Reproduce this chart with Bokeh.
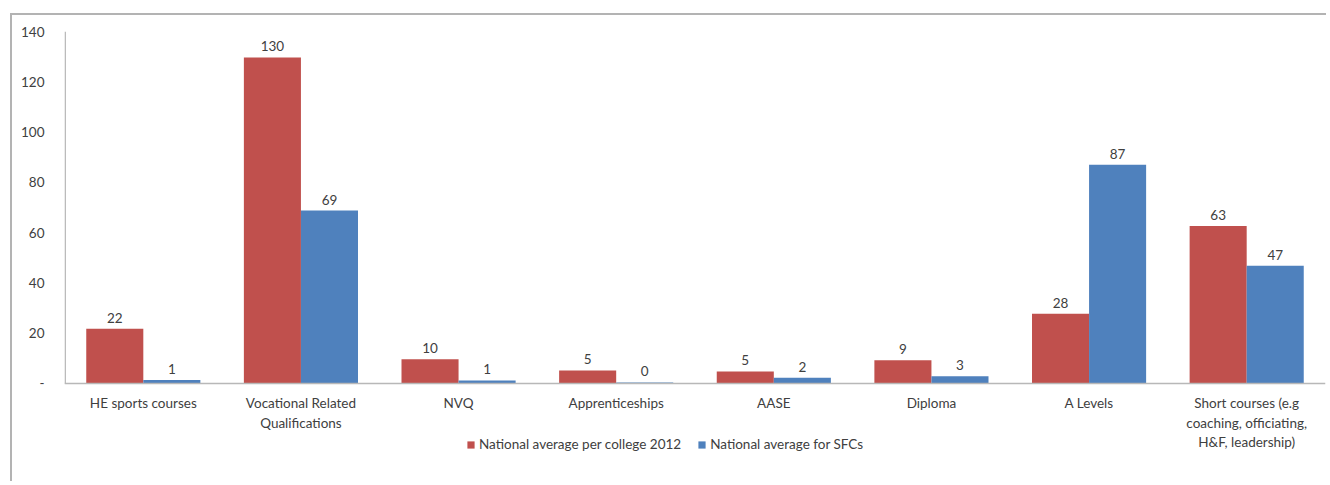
from bokeh.plotting import figure
from bokeh.models import ColumnDataSource, FactorRange, FixedTicker, Legend, LegendItem
from bokeh.transform import dodge
from bokeh.core.properties import value
from bokeh.embed import file_html
from bokeh.resources import INLINE

categories = [
    "HE sports courses",
    "Vocational Related\nQualifications",
    "NVQ",
    "Apprenticeships",
    "AASE",
    "Diploma",
    "A Levels",
    "Short courses (e.g\ncoaching, officiating,\nH&F, leadership)",
]
college_2012 = [21.8, 129.7, 9.6, 5.2, 4.8, 9.2, 27.7, 62.6]
sfcs = [1.4, 68.8, 1.2, 0.4, 2.3, 2.9, 87.0, 46.8]
y_ticks = [0, 20, 40, 60, 80, 100, 120, 140]
series_names = ["National average per college 2012", "National average for SFCs"]

RED = "#C0504D"
BLUE = "#4F81BD"
FONT = "Lato"
TXT = "#404040"
FS = "13.5px"
AXIS = "#b8b8b8"

src = ColumnDataSource(dict(
    cat=categories,
    red=college_2012,
    blue=sfcs,
    red_lbl=[str(round(v)) for v in college_2012],
    blue_lbl=[str(round(v)) for v in sfcs],
))

# frame spans down to the bottom of the chart so the category labels and
# legend live inside it; value axis runs 0..140
p = figure(
    width=1316, height=468,
    x_range=FactorRange(factors=categories, range_padding=0),
    y_range=(-36.6, 140),
    output_backend="svg", toolbar_location=None,
    min_border_left=52, min_border_top=16, min_border_bottom=8, min_border_right=3,
)
p.styles = {
    "margin-left": "10px",
    "margin-top": "13px",
    "border-top": "2px solid #b3b3b3",
    "border-left": "2px solid #b3b3b3",
}
p.outline_line_color = None
p.xgrid.grid_line_color = None
p.ygrid.grid_line_color = None

r1 = p.vbar(x=dodge("cat", -0.181, range=p.x_range), top="red", bottom=0, width=0.362,
            source=src, fill_color=RED, line_color=None)
r2 = p.vbar(x=dodge("cat", 0.181, range=p.x_range), top="blue", bottom=0, width=0.362,
            source=src, fill_color=BLUE, line_color=None)

for col, lbl, off in (("red", "red_lbl", -0.181), ("blue", "blue_lbl", 0.181)):
    p.text(x=dodge("cat", off, range=p.x_range), y=col, text=lbl, source=src,
           text_align="center", text_baseline="bottom", y_offset=-6,
           text_font=value(FONT), text_font_size=FS, text_color=TXT)

# value-axis line from 0 to the top tick
ysrc = ColumnDataSource(dict(x=[categories[0]], y0=[y_ticks[0]], y1=[y_ticks[-1]]))
p.segment(x0=dodge("x", -0.4955, range=p.x_range), y0="y0",
          x1=dodge("x", -0.4955, range=p.x_range), y1="y1",
          source=ysrc, line_color=AXIS, line_width=1.5)

p.yaxis.ticker = FixedTicker(ticks=y_ticks)
p.yaxis.major_label_overrides = {0: "-"}
p.yaxis.axis_line_color = None
p.xaxis.fixed_location = 0
p.xaxis.axis_line_color = AXIS
p.xaxis.axis_line_width = 1.5
for ax in (p.xaxis, p.yaxis):
    ax.major_tick_line_color = None
    ax.minor_tick_line_color = None
    ax.major_label_text_font = FONT
    ax.major_label_text_font_size = FS
    ax.major_label_text_color = TXT
p.yaxis.major_label_standoff = 14
p.xaxis.major_label_standoff = 6

legend = Legend(
    items=[LegendItem(label=series_names[0], renderers=[r1]),
           LegendItem(label=series_names[1], renderers=[r2])],
    orientation="horizontal", location=(402, 23),
    border_line_color=None, background_fill_alpha=0,
    padding=0, margin=0, spacing=16,
    glyph_width=9, glyph_height=9, label_standoff=4,
    label_text_font=FONT, label_text_font_size=FS, label_text_color=TXT,
)
p.add_layout(legend, "center")

open("out.html", "w").write(file_html(p, INLINE))
